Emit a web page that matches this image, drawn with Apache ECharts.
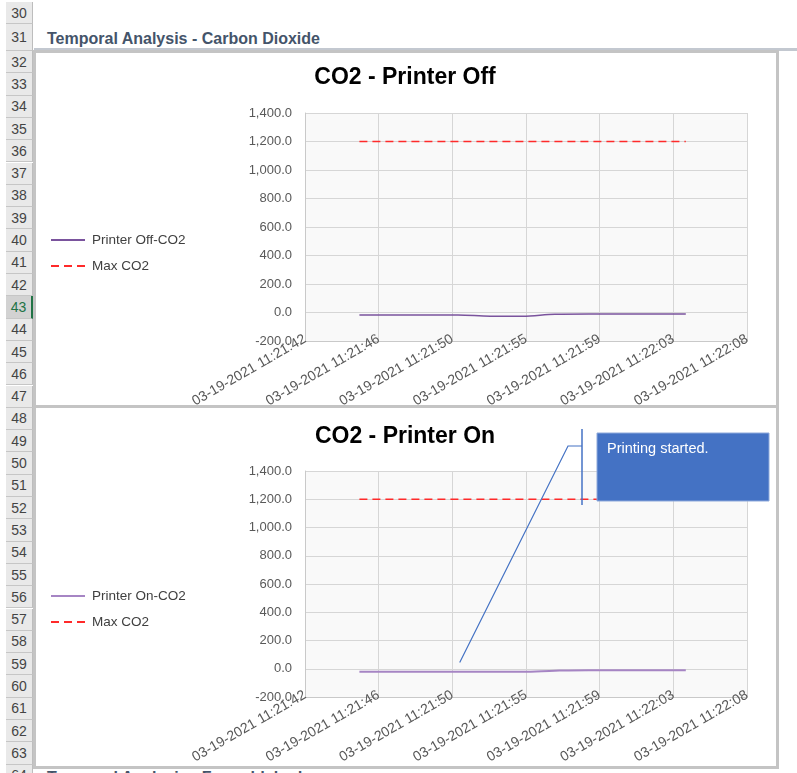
<!DOCTYPE html>
<html>
<head>
<meta charset="utf-8">
<script src="https://cdn.jsdelivr.net/npm/echarts/dist/echarts.min.js"></script>
<style>
  html, body { margin: 0; padding: 0; }
  body { width: 797px; height: 773px; overflow: hidden; position: relative; background: #ffffff; font-family: 'Liberation Sans', Arial, sans-serif; }
  .rowhdr { position: absolute; left: 6px; width: 27px; background: #e9e9e9; border-bottom: 1px solid #c6c6c6; border-right: 1px solid #bdbdbd; box-sizing: border-box; color: #444; font-size: 14px; text-align: center; display: flex; align-items: center; justify-content: center; }
  .rowhdr.sel { background: #d2d2d2; color: #217346; border-right: 2px solid #217346; }
  .heading { position: absolute; left: 47px; top: 30px; font-size: 16px; font-weight: bold; color: #44546a; white-space: nowrap; }
  .hline { position: absolute; left: 34px; right: 0; top: 48px; height: 3px; background: #c3c8d0; }
  .box { position: absolute; left: 33px; width: 746px; border: 3px solid #c4c4c4; box-sizing: border-box; background: #ffffff; }
  #chart { position: absolute; left: 0; top: 0; width: 797px; height: 773px; }
</style>
</head>
<body>
<div id="frame"></div>
<div class="heading" id="heading"></div>
<div class="hline"></div>
<div class="box" style="top:50px;height:358px;"></div>
<div class="box" style="top:405px;height:364px;"></div>
<div class="heading" id="heading2" style="top:769px;"></div>
<div id="chart"></div>
<script>
// ---------------- data ----------------
const sheetHeading = 'Temporal Analysis - Carbon Dioxide';
const nextHeading = 'Temporal Analysis - Formaldehyde';
const rowNumbers = [30, 31, 32, 33, 34, 35, 36, 37, 38, 39, 40, 41, 42, 43, 44, 45, 46, 47, 48, 49, 50, 51, 52, 53, 54, 55, 56, 57, 58, 59, 60, 61, 62, 63, 64];
const selectedRow = 43;

const chartTitles = ['CO2 - Printer Off', 'CO2 - Printer On'];
const seriesNames = ['Printer Off-CO2', 'Printer On-CO2'];
const maxName = 'Max CO2';
const dateText = '03-19-2021';
const axisStart = '11:21:42';
const axisEnd = '11:22:08';

const sampleTimes = ['11:21:45.2', '11:21:47.1', '11:21:49.1', '11:21:51.0', '11:21:52.9', '11:21:54.8', '11:21:56.7', '11:21:58.7', '11:22:00.6', '11:22:02.5', '11:22:04.4'];
const printerOffCO2 = [-17, -17, -17, -17, -26, -26, -12, -10, -10, -10, -10];
const printerOnCO2 = [-21, -21, -21, -21, -21, -21, -14, -10, -10, -10, -10];
const maxCO2 = [1200, 1200, 1200, 1200, 1200, 1200, 1200, 1200, 1200, 1200, 1200];

const yMin = -200, yMax = 1400, yStep = 200;
const calloutText = 'Printing started.';
const calloutTime = '11:21:51.1';
const calloutValue = 45;

// ---------------- sheet frame ----------------
const frame = document.getElementById('frame');
rowNumbers.forEach(function (r) {
  let top, h;
  if (r === 30) { top = 2; h = 22; }
  else if (r === 31) { top = 24; h = 27; }
  else { top = 51 + (r - 32) * 22.3; h = 22.3; }
  const d = document.createElement('div');
  d.className = 'rowhdr' + (r === selectedRow ? ' sel' : '');
  d.style.top = top + 'px';
  d.style.height = h + 'px';
  d.textContent = r;
  frame.appendChild(d);
});
document.getElementById('heading').textContent = sheetHeading;
document.getElementById('heading2').textContent = nextHeading;

// ---------------- helpers ----------------
function secs(t) {
  const p = t.split(':').map(Number);
  return p[0] * 3600 + p[1] * 60 + p[2];
}
const base = secs(axisStart);
// axis unit = one third of a second, so that 6 equal intervals are integers
function toUnits(t) { return Math.round((secs(t) - base) * 3 * 1000) / 1000; }
const xMax = toUnits(axisEnd);
const xStep = xMax / 6;
function pad(n) { return (n < 10 ? '0' : '') + n; }
function xLabel(v) {
  const s = base + Math.floor(v / 3 + 1e-6);
  const h = Math.floor(s / 3600), m = Math.floor((s % 3600) / 60), sec = s % 60;
  return dateText + ' ' + pad(h) + ':' + pad(m) + ':' + pad(sec);
}
function yLabel(v) {
  return v.toLocaleString('en-US', { minimumFractionDigits: 1, maximumFractionDigits: 1 });
}
function pairs(vals) { return sampleTimes.map(function (t, i) { return [toUnits(t), vals[i]]; }); }

const FONT = "'Liberation Sans', Arial, sans-serif";
const grids = [
  { left: 305, width: 442, top: 113, height: 228 },
  { left: 305, width: 442, top: 471, height: 226 }
];
const purple = ['#7a539d', '#a685c4'];
const red = '#ff2a2a';

const legendBase = { orient: 'vertical', left: 50, padding: 0, itemWidth: 34, itemHeight: 14, itemGap: 12, textStyle: { color: '#404040', fontSize: 13.5, fontFamily: FONT, padding: [0, 0, 0, 2] }, itemStyle: { opacity: 0 }, selectedMode: false };

const option = {
  animation: false,
  backgroundColor: 'transparent',
  textStyle: { fontFamily: FONT },
  grid: grids.map(function (g) { return Object.assign({ show: true, backgroundColor: '#f9f9f9', borderWidth: 0 }, g); }),
  xAxis: grids.map(function (g, i) {
    return {
      gridIndex: i, type: 'value', min: 0, max: xMax, interval: xStep,
      axisLine: { show: true, onZero: false, lineStyle: { color: '#c9c9c9' } },
      axisTick: { show: false },
      splitLine: { show: true, lineStyle: { color: '#d6d6d6' } },
      axisLabel: { rotate: 30, margin: -3, color: '#595959', fontSize: 14, fontFamily: FONT, formatter: xLabel, showMinLabel: true, showMaxLabel: true, hideOverlap: false }
    };
  }),
  yAxis: grids.map(function (g, i) {
    return {
      gridIndex: i, type: 'value', min: yMin, max: yMax, interval: yStep,
      axisLine: { show: true, lineStyle: { color: '#c9c9c9' } },
      axisTick: { show: false },
      splitLine: { show: true, lineStyle: { color: '#d6d6d6' } },
      axisLabel: { margin: 13, color: '#595959', fontSize: 13, fontFamily: FONT, formatter: yLabel }
    };
  }),
  legend: [
    Object.assign({ data: [seriesNames[0], maxName], top: 233 }, legendBase),
    Object.assign({ data: [seriesNames[1], maxName], top: 589 }, legendBase)
  ],
  series: [
    { name: seriesNames[0], type: 'line', xAxisIndex: 0, yAxisIndex: 0, data: pairs(printerOffCO2), smooth: 0.35, symbol: 'none', lineStyle: { color: purple[0], width: 1.5 }, itemStyle: { color: purple[0] } },
    { name: maxName, type: 'line', xAxisIndex: 0, yAxisIndex: 0, data: pairs(maxCO2), symbol: 'none', lineStyle: { color: red, width: 1.5, type: [8, 5] }, itemStyle: { color: red } },
    { name: seriesNames[1], type: 'line', xAxisIndex: 1, yAxisIndex: 1, data: pairs(printerOnCO2), smooth: 0.35, symbol: 'none', lineStyle: { color: purple[1], width: 2 }, itemStyle: { color: purple[1] } },
    { name: maxName, type: 'line', xAxisIndex: 1, yAxisIndex: 1, data: pairs(maxCO2), symbol: 'none', lineStyle: { color: red, width: 1.5, type: [8, 5] }, itemStyle: { color: red } }
  ]
};

const chart = echarts.init(document.getElementById('chart'), null, { renderer: 'canvas' });
chart.setOption(option);

// titles and the "Printing started." callout (pointer anchored to data coords)
const tip = chart.convertToPixel({ gridIndex: 1 }, [toUnits(calloutTime), calloutValue]);
chart.setOption({
  graphic: [
    { id: 't0', type: 'text', style: { x: 405, y: 78, text: chartTitles[0], textAlign: 'center', textVerticalAlign: 'middle', font: 'bold 23px ' + FONT, fill: '#000000' }, z: 10 },
    { id: 't1', type: 'text', style: { x: 405, y: 437, text: chartTitles[1], textAlign: 'center', textVerticalAlign: 'middle', font: 'bold 23px ' + FONT, fill: '#000000' }, z: 10 },
    { id: 'cl', type: 'polyline', shape: { points: [tip, [568, 446], [582, 446]] }, style: { stroke: '#4472c4', lineWidth: 1.2, fill: null }, z: 10 },
    { id: 'cb', type: 'line', shape: { x1: 582, y1: 429, x2: 582, y2: 505 }, style: { stroke: '#4472c4', lineWidth: 1.5 }, z: 10 },
    { id: 'cr', type: 'rect', shape: { x: 597, y: 433, width: 172, height: 68 }, style: { fill: '#4472c4', stroke: '#8ea9db', lineWidth: 1 }, z: 10 },
    { id: 'ct', type: 'text', style: { x: 607, y: 449, text: calloutText, textVerticalAlign: 'middle', font: '14.5px ' + FONT, fill: '#ffffff' }, z: 11 }
  ]
});
</script>
</body>
</html>
